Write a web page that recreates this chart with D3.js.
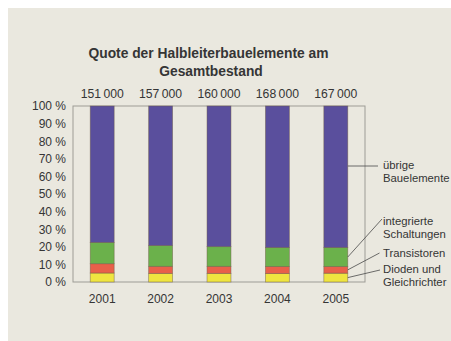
<!DOCTYPE html>
<html>
<head>
<meta charset="utf-8">
<script src="https://cdn.jsdelivr.net/npm/d3@7"></script>
<style>
  html, body { margin: 0; padding: 0; background: #ffffff; }
  svg { display: block; font-family: "Liberation Sans", Arial, sans-serif; }
</style>
</head>
<body>
<svg id="chart" width="451" height="341"></svg>
<script>
// Jahre (Kategorien)
const years = ["2001", "2002", "2003", "2004", "2005"];
// Gesamtbestand je Jahr (Beschriftung über den Säulen)
const totals = [151000, 157000, 160000, 168000, 167000];
// Anteile in Prozent, von unten nach oben gestapelt
const dioden = [5.1, 4.9, 4.9, 4.8, 5.0];
const transistoren = [5.3, 4.0, 4.0, 4.0, 3.8];
const integrierte = [12.1, 11.8, 11.2, 10.8, 10.8];
const uebrige = [77.5, 79.3, 79.9, 80.4, 80.4];
// Achsenbeschriftung
const yTicks = [0, 10, 20, 30, 40, 50, 60, 70, 80, 90, 100];

const seriesKeys = ["dioden", "transistoren", "integrierte", "uebrige"];
const seriesColors = {
  dioden: "#efe540",
  transistoren: "#e8604a",
  integrierte: "#6bb14b",
  uebrige: "#5a4f9d"
};
const seriesLabels = {
  dioden: ["Dioden und", "Gleichrichter"],
  transistoren: ["Transistoren"],
  integrierte: ["integrierte", "Schaltungen"],
  uebrige: ["übrige", "Bauelemente"]
};

const rows = years.map((y, i) => ({
  year: y,
  dioden: dioden[i],
  transistoren: transistoren[i],
  integrierte: integrierte[i],
  uebrige: uebrige[i]
}));

const svg = d3.select("#chart");
const textColor = "#353535";

// Papierfläche
svg.append("rect")
  .attr("x", 8).attr("y", 8)
  .attr("width", 443).attr("height", 333)
  .attr("fill", "#eae8df");

const plot = { left: 73, right: 365, top: 106, bottom: 282 };

const x = d3.scaleBand()
  .domain(years)
  .range([plot.left, plot.right])
  .paddingInner(0.59)
  .paddingOuter(0.295);

const y = d3.scaleLinear()
  .domain([0, 100])
  .range([plot.bottom, plot.top]);

// Rahmen der Zeichenfläche
svg.append("rect")
  .attr("x", plot.left).attr("y", plot.top)
  .attr("width", plot.right - plot.left)
  .attr("height", plot.bottom - plot.top)
  .attr("fill", "none")
  .attr("stroke", "#9d9c96")
  .attr("stroke-width", 1);

// Titel
const title = svg.append("text")
  .attr("text-anchor", "middle")
  .attr("font-weight", "bold")
  .attr("font-size", 13.8)
  .attr("fill", textColor);
title.append("tspan").attr("x", 208.5).attr("y", 58).text("Quote der Halbleiterbauelemente am");
title.append("tspan").attr("x", 211).attr("y", 75.5).text("Gesamtbestand");

// y-Achse
const yAxis = d3.axisLeft(y)
  .tickValues(yTicks)
  .tickSize(0)
  .tickPadding(7)
  .tickFormat(d => d + " %");
const yg = svg.append("g")
  .attr("transform", `translate(${plot.left},0)`)
  .call(yAxis);
yg.select(".domain").remove();
yg.selectAll("text")
  .attr("font-size", 12)
  .attr("font-family", "Liberation Sans, Arial, sans-serif")
  .attr("fill", textColor);

// x-Achse
const xAxis = d3.axisBottom(x).tickSize(0).tickPadding(12);
const xg = svg.append("g")
  .attr("transform", `translate(0,${plot.bottom})`)
  .call(xAxis);
xg.select(".domain").remove();
xg.selectAll("text")
  .attr("font-size", 12)
  .attr("font-family", "Liberation Sans, Arial, sans-serif")
  .attr("fill", textColor);

// Gestapelte Säulen
const stack = d3.stack().keys(seriesKeys);
const stacked = stack(rows);

svg.append("g")
  .selectAll("g")
  .data(stacked)
  .join("g")
  .attr("fill", d => seriesColors[d.key])
  .selectAll("rect")
  .data(d => d)
  .join("rect")
  .attr("x", d => x(d.data.year))
  .attr("width", x.bandwidth())
  .attr("y", d => y(d[1]))
  .attr("height", d => y(d[0]) - y(d[1]))
  .attr("stroke", "#6b5a45")
  .attr("stroke-opacity", 0.55)
  .attr("stroke-width", 0.8);

// Gesamtbestand über den Säulen
const fmt = n => d3.format(",")(n).replace(/,/g, "\u2009");
svg.append("g")
  .selectAll("text")
  .data(years)
  .join("text")
  .attr("x", d => x(d) + x.bandwidth() / 2)
  .attr("y", 98)
  .attr("text-anchor", "middle")
  .attr("font-size", 12.2)
  .attr("fill", textColor)
  .text((d, i) => fmt(totals[i]));

// Legende mit Hinweislinien an der letzten Säule
const last = stacked.map(s => s[s.length - 1]);
const barRight = x(years[years.length - 1]) + x.bandwidth();
const legend = [
  { key: "uebrige", sy: 166, ex: 378, ey: 166, ty: 169 },
  { key: "integrierte", sy: null, ex: 382, ey: 219, ty: 225 },
  { key: "transistoren", sy: null, ex: 379.5, ey: 253, ty: 257 },
  { key: "dioden", sy: null, ex: 380, ey: 270, ty: 273 }
];
const lg = svg.append("g");
legend.forEach(item => {
  const seg = last[seriesKeys.indexOf(item.key)];
  const sy = item.sy != null ? item.sy : y((seg[0] + seg[1]) / 2);
  lg.append("line")
    .attr("x1", barRight).attr("y1", sy)
    .attr("x2", item.ex).attr("y2", item.ey)
    .attr("stroke", "#4a4a4a")
    .attr("stroke-width", 0.8);
  const t = lg.append("text")
    .attr("font-size", 11.3)
    .attr("fill", textColor);
  seriesLabels[item.key].forEach((line, i) => {
    t.append("tspan").attr("x", 383).attr("y", item.ty + i * 12.8).text(line);
  });
});
</script>
</body>
</html>
